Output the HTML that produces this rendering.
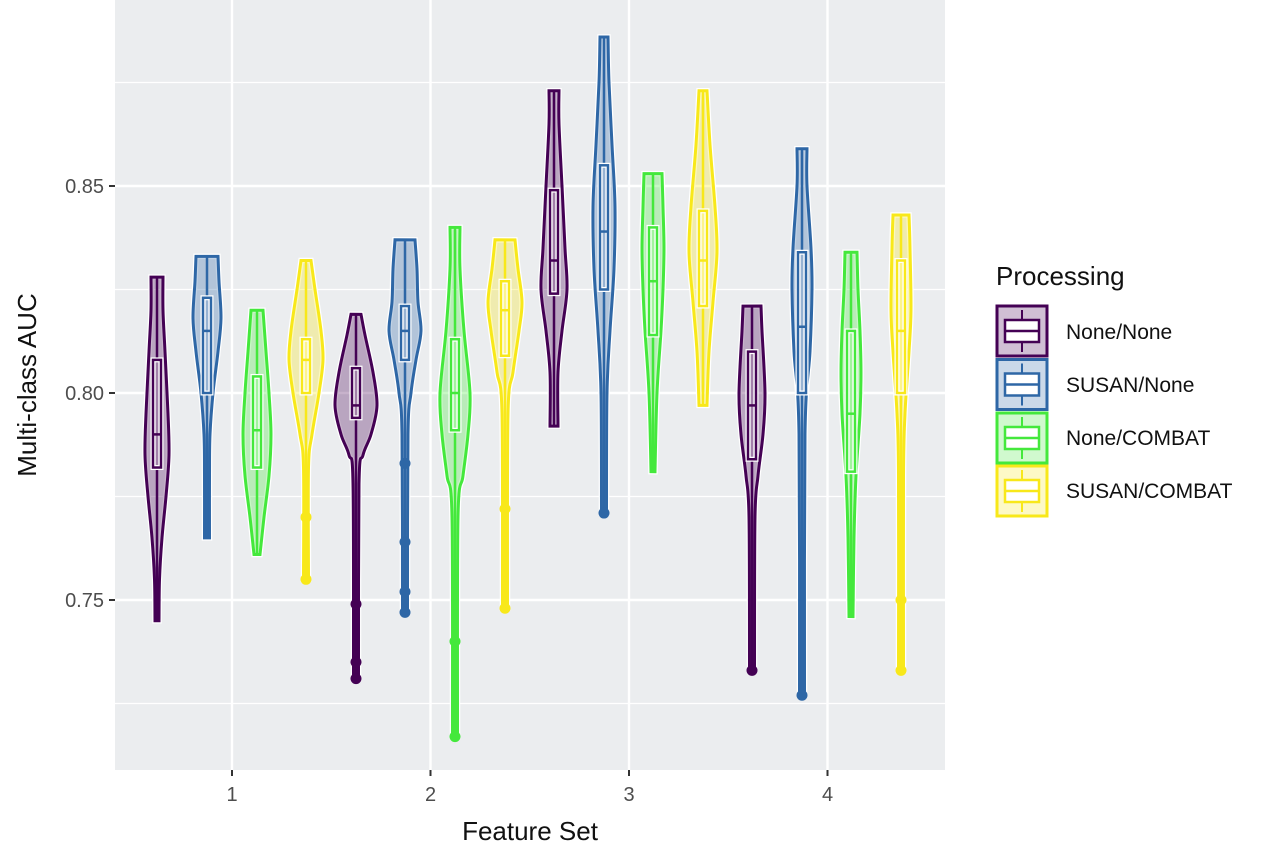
<!DOCTYPE html>
<html><head><meta charset="utf-8"><style>
html,body{margin:0;padding:0;background:#fff;}
svg{display:block;font-family:"Liberation Sans",sans-serif;}
</style></head><body>
<svg id="s" width="1280" height="849" viewBox="0 0 1280 849" xmlns="http://www.w3.org/2000/svg">
<rect x="115" y="0" width="830" height="770" fill="#ebedef"/>
<g stroke="#fff" stroke-width="1.2">
<line x1="115" x2="945" y1="82.5" y2="82.5"/><line x1="115" x2="945" y1="289.5" y2="289.5"/>
<line x1="115" x2="945" y1="496.5" y2="496.5"/><line x1="115" x2="945" y1="703.5" y2="703.5"/>
</g>
<g stroke="#fff" stroke-width="2.4">
<line x1="115" x2="945" y1="186" y2="186"/><line x1="115" x2="945" y1="393" y2="393"/><line x1="115" x2="945" y1="600" y2="600"/>
<line x1="232" x2="232" y1="0" y2="770"/><line x1="430.5" x2="430.5" y1="0" y2="770"/>
<line x1="629" x2="629" y1="0" y2="770"/><line x1="827.5" x2="827.5" y1="0" y2="770"/>
</g>
<g id="v"></g>
<g stroke="#333" stroke-width="2">
<line x1="109" x2="115" y1="186" y2="186"/><line x1="109" x2="115" y1="393" y2="393"/><line x1="109" x2="115" y1="600" y2="600"/>
<line x1="232" x2="232" y1="770" y2="776"/><line x1="430.5" x2="430.5" y1="770" y2="776"/><line x1="629" x2="629" y1="770" y2="776"/><line x1="827.5" x2="827.5" y1="770" y2="776"/>
</g>
<g fill="#4d4d4d" font-size="20" text-anchor="end">
<text x="104" y="193">0.85</text><text x="104" y="400">0.80</text><text x="104" y="607">0.75</text>
</g>
<g fill="#4d4d4d" font-size="20" text-anchor="middle">
<text x="232" y="801">1</text><text x="430.5" y="801">2</text><text x="629" y="801">3</text><text x="827.5" y="801">4</text>
</g>
<text x="530" y="840" font-size="26" text-anchor="middle" fill="#111">Feature Set</text>
<text transform="translate(36,385) rotate(-90)" font-size="26" text-anchor="middle" fill="#111">Multi-class AUC</text>
<text x="996" y="285" font-size="26" fill="#111">Processing</text>
<g id="lg"></g>
<g font-size="21" fill="#111">
<text x="1066" y="339">None/None</text><text x="1066" y="392">SUSAN/None</text>
<text x="1066" y="445">None/COMBAT</text><text x="1066" y="498">SUSAN/COMBAT</text>
</g>
</svg>
<script>
var C=["#440154","#2e67a6","#44e83c","#f8e81a"];
function Y(v){return 393-(v-0.80)*4140;}
var D=[
[157,0,[[0.828,6],[0.82,6],[0.81,8],[0.795,11],[0.785,12],[0.775,9],[0.765,5],[0.755,2.5],[0.745,2]],[0.782,0.790,0.808],[]],
[207,1,[[0.833,11],[0.827,12],[0.818,14],[0.81,11],[0.80,6],[0.79,3],[0.78,2.5],[0.765,2.5]],[0.800,0.815,0.823],[]],
[257,2,[[0.820,6],[0.81,9],[0.80,12],[0.79,14],[0.78,12],[0.77,7],[0.761,3]],[0.782,0.791,0.804],[]],
[306,3,[[0.832,5],[0.825,9],[0.815,15],[0.808,17],[0.80,13],[0.79,6],[0.782,2.5],[0.755,2.5]],[0.800,0.808,0.813],[0.770,0.755]],
[356,0,[[0.819,5],[0.814,9],[0.805,17],[0.797,21],[0.79,15],[0.785,7],[0.778,3],[0.731,2.5]],[0.794,0.797,0.806],[0.749,0.735,0.731]],
[405,1,[[0.837,10],[0.83,12],[0.822,13],[0.815,16],[0.808,11],[0.80,6],[0.79,3],[0.747,2.5]],[0.808,0.815,0.821],[0.783,0.764,0.752,0.747]],
[455,2,[[0.840,5],[0.83,5],[0.815,9],[0.80,15],[0.79,13],[0.78,8],[0.77,3],[0.717,2.5]],[0.791,0.800,0.813],[0.740,0.717]],
[505,3,[[0.837,10],[0.83,13],[0.822,17],[0.815,14],[0.805,8],[0.795,3],[0.748,2.5]],[0.809,0.820,0.827],[0.772,0.748]],
[554,0,[[0.873,5],[0.865,5],[0.85,8],[0.835,11],[0.825,13],[0.815,8],[0.805,4],[0.792,4]],[0.824,0.832,0.849],[]],
[604,1,[[0.886,4],[0.875,5],[0.86,8],[0.845,11],[0.83,10],[0.815,6],[0.80,3],[0.771,2.5]],[0.825,0.839,0.855],[0.771]],
[653,2,[[0.853,9],[0.845,10],[0.835,11],[0.825,10],[0.815,8],[0.80,4],[0.781,2]],[0.814,0.827,0.840],[]],
[703,3,[[0.873,4],[0.86,7],[0.845,12],[0.834,14],[0.822,10],[0.81,6],[0.797,4]],[0.821,0.832,0.844],[]],
[752,0,[[0.821,9],[0.815,10],[0.80,13],[0.79,11],[0.78,6],[0.77,3],[0.733,2.5]],[0.784,0.797,0.810],[0.733]],
[802,1,[[0.859,5],[0.85,5],[0.835,9],[0.825,10],[0.81,8],[0.79,3],[0.727,2.5]],[0.800,0.816,0.834],[0.727]],
[851,2,[[0.834,6],[0.825,7],[0.815,9],[0.805,10],[0.795,9],[0.78,5],[0.765,3],[0.746,2]],[0.781,0.795,0.815],[]],
[901,3,[[0.843,8],[0.835,9],[0.82,10],[0.81,8],[0.795,4],[0.78,2.5],[0.733,2.5]],[0.800,0.815,0.832],[0.750,0.733]]
];
function spline(P){var s="";for(var i=0;i<P.length-1;i++){var p0=P[Math.max(i-1,0)],p1=P[i],p2=P[i+1],p3=P[Math.min(i+2,P.length-1)];
var c1=[p1[0]+(p2[0]-p0[0])/6,p1[1]+(p2[1]-p0[1])/6],c2=[p2[0]-(p3[0]-p1[0])/6,p2[1]-(p3[1]-p1[1])/6];
s+="C"+c1[0].toFixed(1)+","+c1[1].toFixed(1)+" "+c2[0].toFixed(1)+","+c2[1].toFixed(1)+" "+p2[0].toFixed(1)+","+p2[1].toFixed(1);}return s;}
var h="";
D.forEach(function(d){var x=d[0],c=C[d[1]],p=d[2];
var R=p.map(function(q){return [x+q[1],Y(q[0])];});
var L=p.slice().reverse().map(function(q){return [x-q[1],Y(q[0])];});
var pts="M"+R[0][0]+","+R[0][1]+spline(R)+"L"+L[0][0]+","+L[0][1]+spline(L)+"Z";
h+='<path d="'+pts+'" fill="none" stroke="#fff" stroke-width="5.5"/>';
h+='<path d="'+pts+'" fill="'+c+'" fill-opacity="0.3" stroke="'+c+'" stroke-width="3"/>';
var b=d[3],top=p[0][0],bot=p[p.length-1][0];
h+='<line x1="'+x+'" x2="'+x+'" y1="'+Y(top)+'" y2="'+Y(bot)+'" stroke="'+c+'" stroke-width="2.5"/>';
h+='<rect x="'+(x-4)+'" y="'+Y(b[2])+'" width="8" height="'+(Y(b[0])-Y(b[2]))+'" fill="none" stroke="#fff" stroke-width="5"/>';
h+='<rect x="'+(x-4)+'" y="'+Y(b[2])+'" width="8" height="'+(Y(b[0])-Y(b[2]))+'" fill="#fff" fill-opacity="0.5" stroke="'+c+'" stroke-width="2.5"/>';
h+='<line x1="'+(x-4)+'" x2="'+(x+4)+'" y1="'+Y(b[1])+'" y2="'+Y(b[1])+'" stroke="'+c+'" stroke-width="2.5"/>';
d[4].forEach(function(o){h+='<circle cx="'+x+'" cy="'+Y(o)+'" r="5.5" fill="'+c+'"/>';});
});
document.getElementById("v").innerHTML=h;
var g="";[306,359.5,413,466].forEach(function(y,i){var c=C[i];
g+='<rect x="997" y="'+y+'" width="50" height="50" fill="'+c+'" fill-opacity="0.25" stroke="'+c+'" stroke-width="3"/>';
g+='<line x1="1022" x2="1022" y1="'+(y+4)+'" y2="'+(y+46)+'" stroke="'+c+'" stroke-width="2"/>';
g+='<rect x="1005" y="'+(y+14)+'" width="34" height="22" fill="#fff" stroke="'+c+'" stroke-width="2.5"/>';
g+='<line x1="1005" x2="1039" y1="'+(y+25)+'" y2="'+(y+25)+'" stroke="'+c+'" stroke-width="2.5"/>';});
document.getElementById("lg").innerHTML=g;
</script>
</body></html>
